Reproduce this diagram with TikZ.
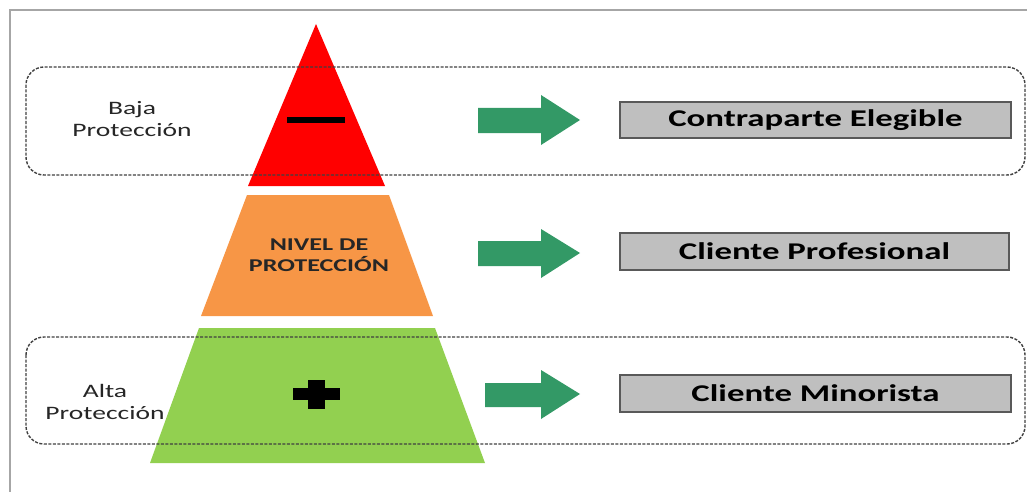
\documentclass[tikz,border=0pt]{standalone}
\usepackage{fontspec}
\usepackage{graphicx}
\setmainfont{Carlito}
\newcommand{\wx}[1]{\scalebox{1.45}[1]{#1}}
\definecolor{pyrred}{HTML}{FF0000}
\definecolor{pyrorange}{HTML}{F79646}
\definecolor{pyrgreen}{HTML}{92D050}
\definecolor{arrgreen}{HTML}{339966}
\definecolor{boxgray}{HTML}{BFBFBF}
\definecolor{boxedge}{HTML}{595959}
\definecolor{framegray}{HTML}{A6A6A6}
\definecolor{dashgray}{HTML}{404040}
\tikzset{
  frameline/.style={draw=framegray, line width=2pt},
  groupbox/.style={draw=dashgray, line width=1.4pt, dash pattern=on 3pt off 1.5pt, rounded corners=18pt},
  blockarrow/.style={fill=arrgreen},
  catbox/.style={draw=boxedge, fill=boxgray, line width=1.5pt},
  cattext/.style={font=\fontsize{24}{27}\selectfont\bfseries, text=black, inner sep=0pt},
  sidetext/.style={font=\fontsize{19}{22}\selectfont, text=black!85, align=center, inner sep=0pt},
  midtext/.style={font=\fontsize{18}{21}\selectfont\bfseries, text=black!85, align=center, inner sep=0pt},
  signbar/.style={fill=black}
}
\begin{document}
\begin{tikzpicture}[x=1pt,y=-1pt]
\useasboundingbox (0,0) rectangle (1027,492);
% outer frame
\draw[frameline] (10,492) -- (10,10) -- (1027,10);
% pyramid
\fill[pyrred] (316,24) -- (385,186) -- (248,186) -- cycle;
\fill[pyrorange] (247,195) -- (389,195) -- (433,316) -- (201,316) -- cycle;
\fill[pyrgreen] (199,328) -- (435,328) -- (485,463) -- (150,463) -- cycle;
% signs
\fill[signbar] (287,117) rectangle (345,123);
\fill[signbar] (293,388) rectangle (340,400);
\fill[signbar] (308,380) rectangle (325,409);
% pyramid texts
\node[midtext] (nivel) at (319,255) {\wx{NIVEL DE}\\\wx{PROTECCIÓN}};
\node[sidetext] (baja) at (132,119) {\wx{Baja}\\\wx{Protección}};
\node[sidetext] (alta) at (105,402) {\wx{Alta}\\\wx{Protección}};
% arrows
\fill[blockarrow] (478,108) -- (541,108) -- (541,95) -- (580,120) -- (541,145) -- (541,133) -- (478,133) -- cycle;
\fill[blockarrow] (478,241) -- (541,241) -- (541,229) -- (580,253) -- (541,278) -- (541,266) -- (478,266) -- cycle;
\fill[blockarrow] (485,383) -- (541,383) -- (541,370) -- (580,394) -- (541,419) -- (541,407) -- (485,407) -- cycle;
% category boxes
\draw[catbox] (620,102) rectangle (1011,138);
\node[cattext] (cont) at (815.5,120) {\wx{Contraparte Elegible}};
\draw[catbox] (620,233) rectangle (1009,270);
\node[cattext] (prof) at (814.5,251.5) {\wx{Cliente Profesional}};
\draw[catbox] (620,375) rectangle (1011,412);
\node[cattext] (mino) at (815.5,393.5) {\wx{Cliente Minorista}};
% dashed groups
\draw[groupbox] (26,67) rectangle (1025,175);
\draw[groupbox] (26,337) rectangle (1025,444);
\end{tikzpicture}
\end{document}
